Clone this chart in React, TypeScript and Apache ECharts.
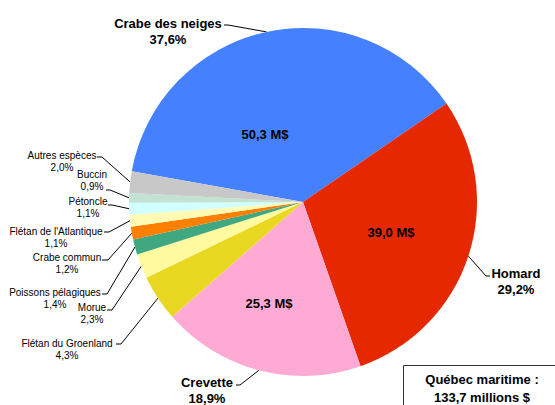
import React, { useEffect, useRef } from "react";
import * as echarts from "echarts";

// Data (share of total landed value, %)
const categories = [
  "Crabe des neiges",
  "Homard",
  "Crevette",
  "Flétan du Groenland",
  "Morue",
  "Poissons pélagiques",
  "Crabe commun",
  "Flétan de l'Atlantique",
  "Pétoncle",
  "Buccin",
  "Autres espèces",
];
const shares = [37.6, 29.2, 18.9, 4.3, 2.3, 1.4, 1.2, 1.1, 1.1, 0.9, 2.0];
const amounts = [50.3, 39.0, 25.3]; // M$ for the three main species
const totalText = ["Québec maritime :", "133,7 millions $"];

const colors = [
  "#4581FF",
  "#E62800",
  "#FFAAD4",
  "#E8D822",
  "#FFF9A0",
  "#40A880",
  "#FF7F00",
  "#FFFAB4",
  "#D2FFFF",
  "#C2E2D2",
  "#C8C8C8",
];

// label placement (text centre, and the end of its leader line)
const outerLabels = [
  { x: 168, y: 31, elbow: [228, 25], end: [224, 25], big: true },
  { x: 516, y: 281, elbow: [486, 276], end: [490, 276], big: true },
  { x: 207, y: 390, elbow: [240, 385], end: [236, 385], big: true },
  { x: 67, y: 349, elbow: [121, 344], end: [116, 344], big: false },
  { x: 92, y: 313, elbow: [112, 310], end: [107, 310], big: false },
  { x: 55, y: 298, elbow: [107, 294], end: [102, 294], big: false },
  { x: 67, y: 263, elbow: [108, 260], end: [102, 260], big: false },
  { x: 56, y: 237, elbow: [109, 232], end: [104, 232], big: false },
  { x: 88, y: 207, elbow: [112, 205], end: [108, 205], big: false },
  { x: 92, y: 180, elbow: [110, 190], end: [106, 190], big: false },
  { x: 62, y: 161, elbow: [102, 157], end: [97, 157], big: false },
];
const innerLabels = [
  { x: 265, y: 134 },
  { x: 391, y: 232 },
  { x: 269, y: 303 },
];

const FONT = "'Liberation Sans', Arial, Helvetica, sans-serif";
const fmt = (v: number) => v.toFixed(1).replace(".", ",");

export default function App() {
  const ref = useRef<HTMLDivElement>(null);
  useEffect(() => {
    document.body.style.margin = "0";
    if (!ref.current) return;
    const chart = echarts.init(ref.current, undefined, { renderer: "svg" });

    const outerData = categories.map((name, i) => {
      const big = outerLabels[i].big;
      return {
        name,
        value: shares[i],
        itemStyle: { color: colors[i] },
        label: big
          ? { fontSize: 13, fontWeight: "bold", lineHeight: 16 }
          : { fontSize: 10, fontWeight: "normal", lineHeight: 12 },
      };
    });
    const innerData = categories.map((name, i) => ({
      name,
      value: shares[i],
      label: { show: i < amounts.length },
    }));

    const center = [303, 202];
    const radius = 174;

    chart.setOption({
      animation: false,
      backgroundColor: "#fff",
      series: [
        {
          type: "pie",
          center,
          radius,
          startAngle: 169.8,
          clockwise: true,
          avoidLabelOverlap: false,
          itemStyle: { borderWidth: 0 },
          emphasis: { disabled: true },
          data: outerData,
          label: {
            show: true,
            position: "outside",
            color: "#000",
            fontFamily: FONT,
            align: "center",
            formatter: (p: any) => `${p.name}\n${fmt(p.value)}%`,
          },
          labelLine: {
            show: true,
            smooth: false,
            length: 10,
            length2: 10,
            lineStyle: { color: "#000", width: 1 },
          },
          labelLayout: (params: any) => {
            const L = outerLabels[params.dataIndex];
            const pts = params.labelLinePoints;
            const edge = pts && pts[0] ? [pts[0][0], pts[0][1]] : L.elbow;
            return {
              x: L.x,
              y: L.y,
              align: "center",
              verticalAlign: "middle",
              labelLinePoints: [edge, L.elbow, L.end],
            };
          },
        },
        {
          type: "pie",
          center,
          radius,
          startAngle: 169.8,
          clockwise: true,
          silent: true,
          avoidLabelOverlap: false,
          itemStyle: { color: "rgba(0,0,0,0)", borderWidth: 0 },
          emphasis: { disabled: true },
          data: innerData,
          label: {
            position: "inside",
            color: "#000",
            fontFamily: FONT,
            fontSize: 13,
            fontWeight: "bold",
            formatter: (p: any) =>
              p.dataIndex < amounts.length ? `${fmt(amounts[p.dataIndex])} M$` : "",
          },
          labelLine: { show: false },
          labelLayout: (params: any) => {
            const L = innerLabels[params.dataIndex];
            if (!L) return {};
            return { x: L.x, y: L.y, align: "center", verticalAlign: "middle" };
          },
        },
      ],
      graphic: [
        {
          type: "rect",
          shape: { x: 403.5, y: 365.5, width: 170, height: 60 },
          style: { fill: "#fff", stroke: "#333", lineWidth: 1 },
        },
        {
          type: "text",
          x: 482,
          y: 388,
          style: {
            text: totalText.join("\n"),
            fontFamily: FONT,
            fontSize: 13,
            fontWeight: "bold",
            lineHeight: 18,
            fill: "#000",
            align: "center",
            verticalAlign: "middle",
          },
        },
      ],
    });
    return () => chart.dispose();
  }, []);
  return <div ref={ref} style={{ width: 555, height: 405 }} />;
}
